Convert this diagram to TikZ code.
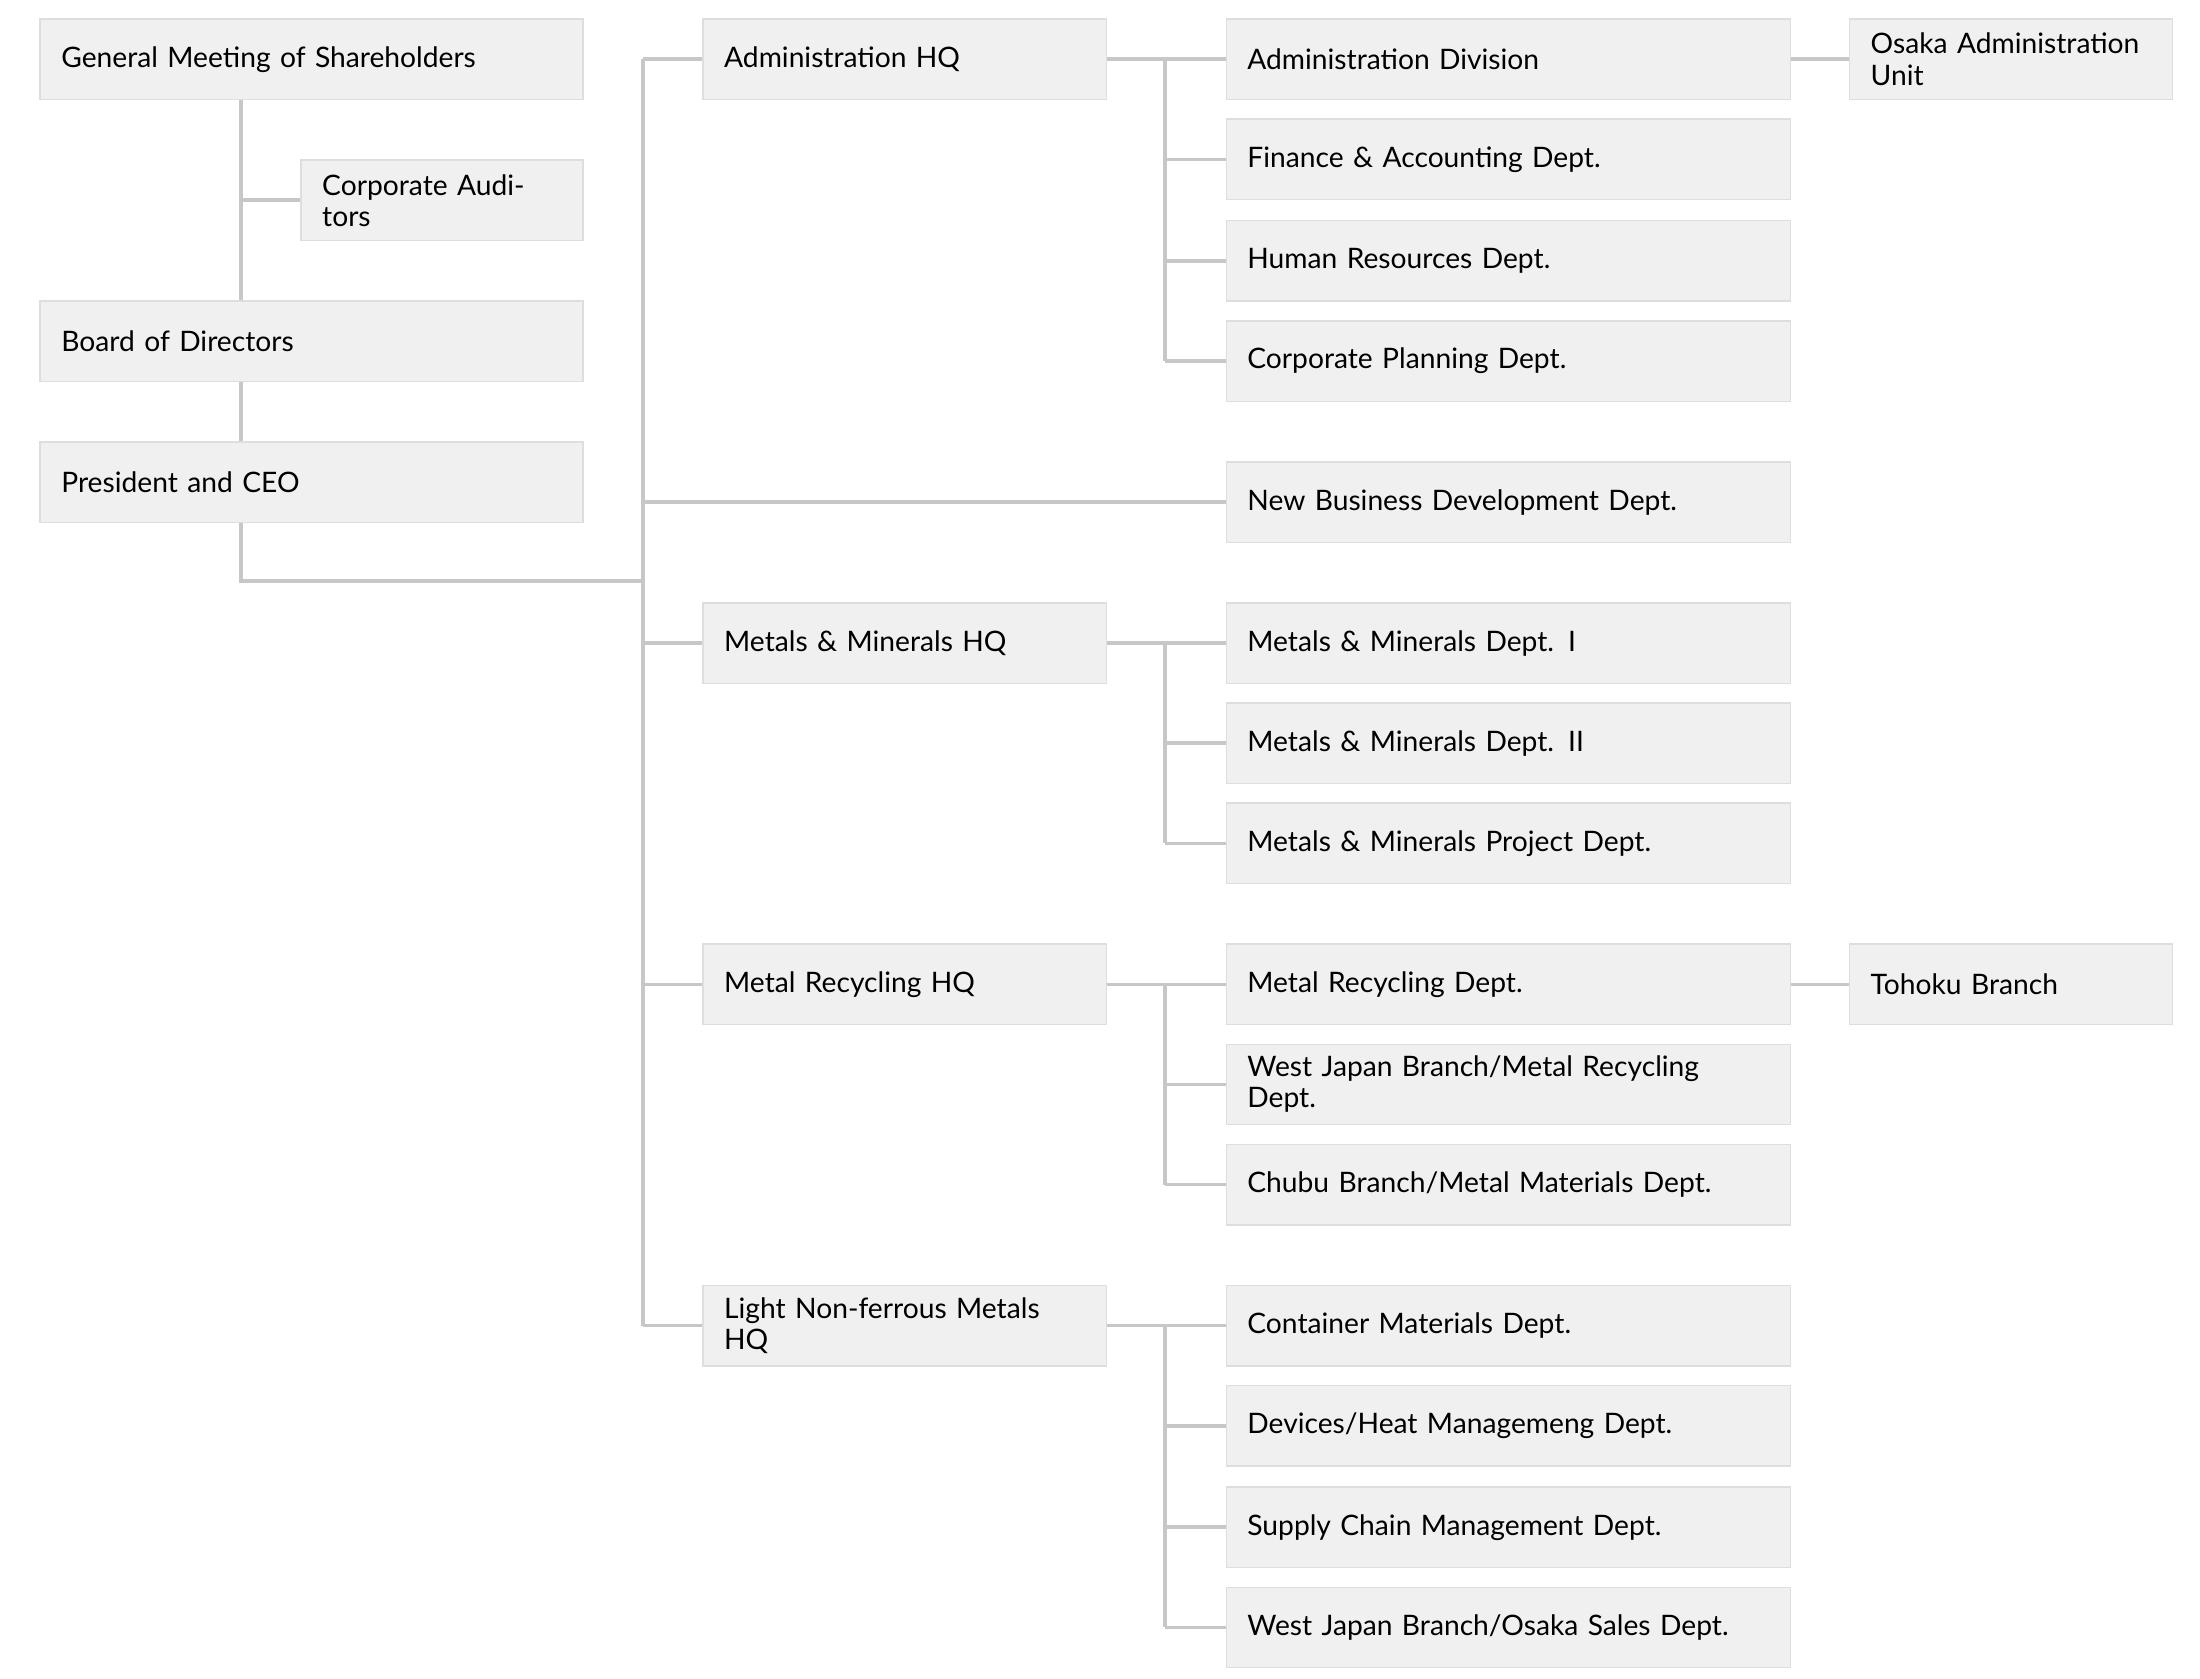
\documentclass[tikz,border=0pt]{standalone}
\usepackage{fontspec}
\setmainfont{Lato}
\begin{document}
\begin{tikzpicture}[x=0.5pt,y=-0.5pt,
  box/.style={draw=black!13,fill=black!6,line width=0.5pt,anchor=west,align=left,inner xsep=7.5pt,inner ysep=0pt,minimum height=28.5pt,font=\fontsize{10}{11}\selectfont},
  c1/.style={box,text width=177.5pt},
  ca/.style={box,text width=85pt},
  c2/.style={box,text width=128pt},
  c3/.style={box,text width=185pt},
  c4/.style={box,text width=99.5pt},
  ln/.style={draw=black!22,line width=1.3pt}]
\useasboundingbox (0,0) rectangle (1560,1190);
\node[c1] (gm) at (28,42) {General Meeting of Shareholders};
\node[ca] (ca) at (213,142) {Corporate Auditors};
\node[c1] (bod) at (28,242) {Board of Directors};
\node[c1] (pres) at (28,342) {President and CEO};
\node[c2] (adm) at (498,42) {Administration HQ};
\node[c2] (mm) at (498,456) {Metals \& Minerals HQ};
\node[c2] (mr) at (498,698) {Metal Recycling HQ};
\node[c2] (lnf) at (498,940) {Light Non-ferrous Metals HQ};
\node[c3] (ad) at (869,42) {Administration Division};
\node[c3] (fa) at (869,113) {Finance \& Accounting Dept.};
\node[c3] (hr) at (869,185) {Human Resources Dept.};
\node[c3] (cp) at (869,256) {Corporate Planning Dept.};
\node[c3] (nbd) at (869,356) {New Business Development Dept.};
\node[c3] (m1) at (869,456) {Metals \& Minerals Dept. I};
\node[c3] (m2) at (869,527) {Metals \& Minerals Dept. II};
\node[c3] (m3) at (869,598) {Metals \& Minerals Project Dept.};
\node[c3] (r1) at (869,698) {Metal Recycling Dept.};
\node[c3] (r2) at (869,769) {West Japan Branch/Metal Recycling Dept.};
\node[c3] (r3) at (869,840) {Chubu Branch/Metal Materials Dept.};
\node[c3] (l1) at (869,940) {Container Materials Dept.};
\node[c3] (l2) at (869,1011) {Devices/Heat Managemeng Dept.};
\node[c3] (l3) at (869,1083) {Supply Chain Management Dept.};
\node[c3] (l4) at (869,1154) {West Japan Branch/Osaka Sales Dept.};
\node[c4] (os) at (1311,42) {Osaka Administration\\Unit};
\node[c4] (th) at (1311,698) {Tohoku Branch};
\coordinate (sp) at (171,0);
\coordinate (tr) at (456,412);
\coordinate (sub) at (826,0);
\draw[ln] (gm.south -| sp) -- (bod.north -| sp);
\draw[ln] (ca.west) -- (ca.west -| sp);
\draw[ln] (bod.south -| sp) -- (pres.north -| sp);
\draw[ln] (pres.south -| sp) |- (tr);
\draw[ln] (adm.west -| tr) -- (lnf.west -| tr);
\foreach \n in {adm,nbd,mm,mr,lnf} \draw[ln] (\n.west) -- (\n.west -| tr);
\draw[ln] (adm.east) -- (ad.west);
\draw[ln] (mm.east) -- (m1.west);
\draw[ln] (mr.east) -- (r1.west);
\draw[ln] (lnf.east) -- (l1.west);
\draw[ln] (ad.west -| sub) -- (cp.west -| sub);
\draw[ln] (m1.west -| sub) -- (m3.west -| sub);
\draw[ln] (r1.west -| sub) -- (r3.west -| sub);
\draw[ln] (l1.west -| sub) -- (l4.west -| sub);
\foreach \n in {fa,hr,cp,m2,m3,r2,r3,l2,l3,l4} \draw[ln] (\n.west) -- (\n.west -| sub);
\draw[ln] (ad.east) -- (os.west);
\draw[ln] (r1.east) -- (th.west);
\end{tikzpicture}
\end{document}
